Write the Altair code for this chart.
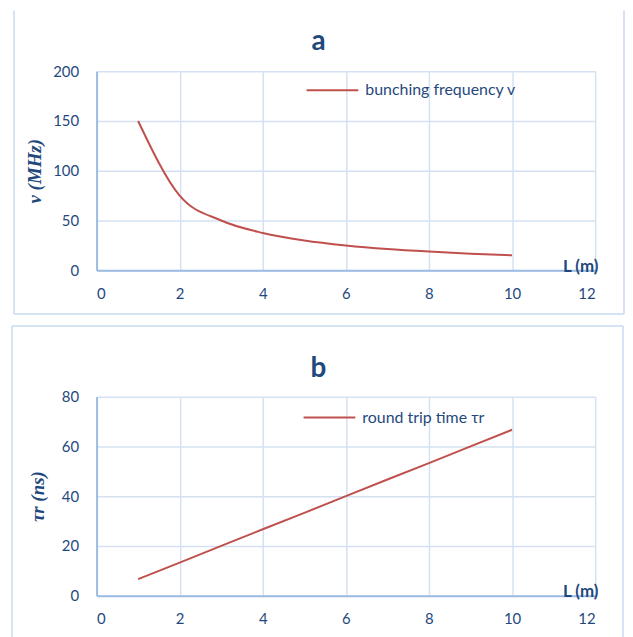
import altair as alt
import pandas as pd

# ---- data ----
L = [1, 2, 3, 4, 5, 6, 7, 8, 9, 10]
freq = [150, 75, 50, 37.5, 30, 25, 21.4, 18.8, 16.7, 15]
trip = [6.67, 13.3, 20, 26.7, 33.3, 40, 46.7, 53.3, 60, 66.7]
freq_name = "bunching frequency v"
trip_name = "round trip time τr"
x_ticks = [0, 2, 4, 6, 8, 10, 12]
freq_ticks = [0, 50, 100, 150, 200]
trip_ticks = [0, 20, 40, 60, 80]

TEXT = "#1f497d"
RED = "#c0504d"
GRID = "#d5e1f2"
DOMAIN = "#9dbbe3"
BORDER = "#c9daf0"
W, H = 501, 200


def panel(values, name, ydomain, yticks, ytitle, title, ytitle_x, legend_x, legend_y,
          interp, border, edge_y, title_y):
    df = pd.DataFrame({"L": L, "value": values, "series": [name] * len(L)})
    line = alt.Chart(df).mark_line(strokeWidth=2, interpolate=interp).encode(
        x=alt.X("L:Q", scale=alt.Scale(domain=[0, 12], nice=False),
                axis=alt.Axis(values=x_ticks, title="L (m)", titleX=486, titleY=-4,
                              titleBaseline="middle", titleAlign="center",
                              titleFontSize=17, titleFontWeight="bold",
                              titleFont="Lato", titleColor=TEXT)),
        y=alt.Y("value:Q", scale=alt.Scale(domain=ydomain, nice=False),
                axis=alt.Axis(values=yticks, title=ytitle, titleX=ytitle_x, titleY=H / 2,
                              titleAngle=-90, titleBaseline="alphabetic",
                              titleAlign="center", titleFont="Liberation Serif",
                              titleFontStyle="italic", titleFontWeight="bold",
                              titleFontSize=19, titleColor=TEXT)),
        color=alt.Color("series:N", scale=alt.Scale(domain=[name], range=[RED]),
                        legend=alt.Legend(orient="none", legendX=legend_x, legendY=legend_y,
                                          title=None, symbolType="stroke", symbolSize=2704,
                                          symbolStrokeWidth=2, labelFont="Lato",
                                          labelFontSize=16, labelColor=TEXT,
                                          labelOffset=6, padding=0)),
    )
    one = pd.DataFrame({"k": [0]})
    left, right, top, bottom = border
    rule = lambda: alt.Chart(one).mark_rule(color=BORDER, strokeWidth=1.5)
    layers = [
        line,
        rule().encode(x=alt.value(left), y=alt.value(top), y2=alt.value(bottom)),
        rule().encode(x=alt.value(right), y=alt.value(top), y2=alt.value(bottom)),
        rule().encode(x=alt.value(left), x2=alt.value(right), y=alt.value(edge_y)),
        alt.Chart(one).mark_text(text=title, font="Lato", fontSize=28, fontWeight="bold",
                                 color=TEXT, align="center", baseline="alphabetic").encode(
            x=alt.value(223), y=alt.value(title_y)),
    ]
    return alt.layer(*layers).properties(width=W, height=H)


a = panel(freq, freq_name, [0, 200], freq_ticks, "v (MHz)", "a", -56, 210, -8,
          "monotone", (-83, 530, -61, 244), 244, -21)
b = panel(trip, trip_name, [0, 80], trip_ticks, "τr (ns)", "b", -53, 207, -6,
          "linear", (-85, 529, -71, 245), -71, -20)

chart = alt.vconcat(a, b, spacing=127, bounds="flush").resolve_scale(
    color="independent"
).configure(
    padding={"left": 3, "top": 0, "right": 0, "bottom": 0}
).configure_view(stroke=None).configure_axis(
    grid=True, gridColor=GRID, gridWidth=1.5, domainColor=DOMAIN, domainWidth=2,
    ticks=False, labelFont="Lato", labelFontSize=15, labelColor=TEXT,
).configure_axisX(labelPadding=16).configure_axisY(labelPadding=18)

chart.save("out.html", embed_options={"renderer": "svg", "actions": False})
